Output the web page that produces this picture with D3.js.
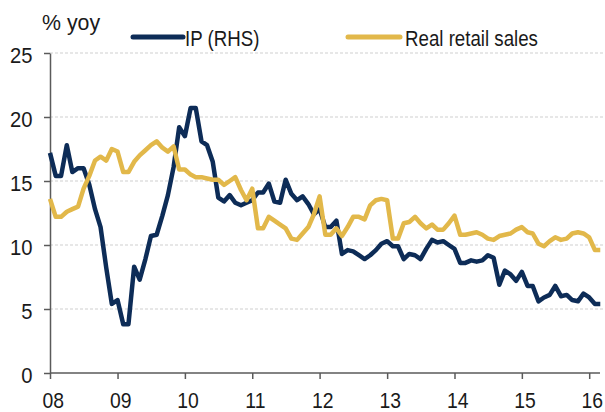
<!DOCTYPE html>
<html>
<head>
<meta charset="utf-8">
<script src="https://cdn.jsdelivr.net/npm/d3@7"></script>
<style>
  body { margin: 0; background: #fff; }
  svg text { font-family: "Liberation Sans", Arial, sans-serif; fill: #1a1a1a; }
</style>
</head>
<body>
<script>
// Monthly % yoy, Dec 2007 .. Feb 2016 (each value drawn at its month end)
var firstMonth = new Date(2007, 11, 1);

var ipValues = [
  17.2,
  15.4, 15.4, 17.8, 15.7, 16.0, 16.0, 14.7, 12.8, 11.4, 8.2, 5.4, 5.7,   // 2008
  3.8, 3.8, 8.3, 7.3, 8.9, 10.7, 10.8, 12.3, 13.9, 16.1, 19.2, 18.5,     // 2009
  20.7, 20.7, 18.1, 17.8, 16.5, 13.7, 13.4, 13.9, 13.3, 13.1, 13.3, 13.5, // 2010
  14.1, 14.1, 14.8, 13.4, 13.3, 15.1, 14.0, 13.5, 13.8, 13.2, 12.4, 12.8, // 2011
  11.4, 11.4, 11.9, 9.3, 9.6, 9.5, 9.2, 8.9, 9.2, 9.6, 10.1, 10.3,       // 2012
  9.9, 9.9, 8.9, 9.3, 9.2, 8.9, 9.7, 10.4, 10.2, 10.3, 10.0, 9.7,        // 2013
  8.6, 8.6, 8.8, 8.7, 8.8, 9.2, 9.0, 6.9, 8.0, 7.7, 7.2, 7.9,            // 2014
  6.8, 6.8, 5.6, 5.9, 6.1, 6.8, 6.0, 6.1, 5.7, 5.6, 6.2, 5.9,            // 2015
  5.4, 5.4                                                               // 2016
];

var retailValues = [
  13.6,
  12.2, 12.2, 12.6, 12.8, 13.0, 14.4, 15.4, 16.6, 16.9, 16.6, 17.5, 17.3, // 2008
  15.7, 15.7, 16.5, 17.0, 17.4, 17.8, 18.1, 17.6, 17.3, 17.7, 15.9, 15.9, // 2009
  15.5, 15.3, 15.3, 15.2, 15.1, 15.1, 14.7, 15.0, 15.3, 14.3, 13.5, 14.4, // 2010
  11.3, 11.3, 12.2, 11.9, 11.6, 11.3, 10.5, 10.4, 10.9, 11.4, 12.4, 13.8, // 2011
  10.8, 10.8, 11.3, 10.7, 11.4, 12.2, 12.2, 12.0, 13.1, 13.5, 13.6, 13.5, // 2012
  10.5, 10.5, 11.7, 11.8, 12.2, 11.7, 11.3, 11.6, 11.2, 11.2, 11.7, 12.3, // 2013
  10.8, 10.8, 10.9, 11.0, 10.8, 10.5, 10.4, 10.7, 10.8, 10.9, 11.2, 11.4, // 2014
  11.0, 10.9, 10.1, 9.9, 10.3, 10.6, 10.4, 10.5, 10.9, 11.0, 10.9, 10.6,  // 2015
  9.6, 9.6                                                                // 2016
];

var yTicks = [0, 5, 10, 15, 20, 25];
var yearTicks = [2008, 2009, 2010, 2011, 2012, 2013, 2014, 2015, 2016];

var series = [
  {name: "IP (RHS)", values: ipValues, color: "#0d2c57"},
  {name: "Real retail sales", values: retailValues, color: "#e2b84a"}
];

var W = 605, H = 412;

var svg = d3.select("body").append("svg")
  .attr("width", W)
  .attr("height", H);

var x = d3.scaleTime()
  .domain([new Date(2008, 0, 1), new Date(2016, 0, 1)])
  .range([50, 589.2]);

var y = d3.scaleLinear()
  .domain([0, 25])
  .range([373, 53]);

// dashed gridlines
svg.append("g").selectAll("line")
  .data(yTicks.filter(function(d) { return d > 0; }))
  .enter().append("line")
  .attr("x1", 50).attr("x2", W)
  .attr("y1", function(d) { return y(d); })
  .attr("y2", function(d) { return y(d); })
  .attr("stroke", "#cfcfcf")
  .attr("stroke-width", 1)
  .attr("stroke-dasharray", "3,2");

// y axis
var yAxis = svg.append("g")
  .attr("transform", "translate(50,0)")
  .call(d3.axisLeft(y).tickValues(yTicks).tickSize(6).tickPadding(13).tickSizeOuter(0));
yAxis.select(".domain").attr("stroke", "#5a5a5a").attr("stroke-width", 1.5);
yAxis.selectAll(".tick line").attr("stroke", "#5a5a5a").attr("stroke-width", 1.5);
yAxis.selectAll(".tick text")
  .style("font-size", "22px")
  .attr("dy", "0.45em")
  .attr("transform", "scale(0.92,1)");

// x axis
var xAxis = svg.append("g")
  .attr("transform", "translate(0,373)")
  .call(d3.axisBottom(x)
    .tickValues(yearTicks.map(function(yr) { return new Date(yr, 0, 1); }))
    .tickFormat(d3.timeFormat("%y"))
    .tickSize(6).tickPadding(13).tickSizeOuter(0));
xAxis.select(".domain").remove();
xAxis.append("line")
  .attr("x1", 50).attr("x2", 600)
  .attr("stroke", "#5a5a5a").attr("stroke-width", 1.5);
xAxis.selectAll(".tick line").attr("stroke", "#5a5a5a").attr("stroke-width", 1.5);
xAxis.selectAll(".tick text")
  .style("font-size", "22px")
  .attr("dx", 3)
  .attr("transform", "scale(0.88,1)");

// lines
var line = d3.line()
  .x(function(d, i) { return x(d3.timeMonth.offset(firstMonth, i + 1)); })
  .y(function(d) { return y(d); });

svg.append("g").selectAll("path")
  .data(series)
  .enter().append("path")
  .attr("d", function(s) { return line(s.values); })
  .attr("fill", "none")
  .attr("stroke", function(s) { return s.color; })
  .attr("stroke-width", 4.5)
  .attr("stroke-linejoin", "round");

// unit label
svg.append("text")
  .attr("transform", "translate(42,30) scale(0.97,1)")
  .style("font-size", "22px")
  .text("% yoy");

// legend
var legendPos = [{x1: 133, x2: 183, tx: 185}, {x1: 348, x2: 400, tx: 405}];
var legend = svg.append("g").selectAll("g")
  .data(series)
  .enter().append("g");
legend.append("line")
  .attr("x1", function(d, i) { return legendPos[i].x1; })
  .attr("x2", function(d, i) { return legendPos[i].x2; })
  .attr("y1", 37).attr("y2", 37)
  .attr("stroke", function(d) { return d.color; })
  .attr("stroke-width", 5)
  .attr("stroke-linecap", "round");
legend.append("text")
  .attr("transform", function(d, i) { return "translate(" + legendPos[i].tx + ",46) scale(0.85,1)"; })
  .style("font-size", "22px")
  .text(function(d) { return d.name; });
</script>
</body>
</html>
